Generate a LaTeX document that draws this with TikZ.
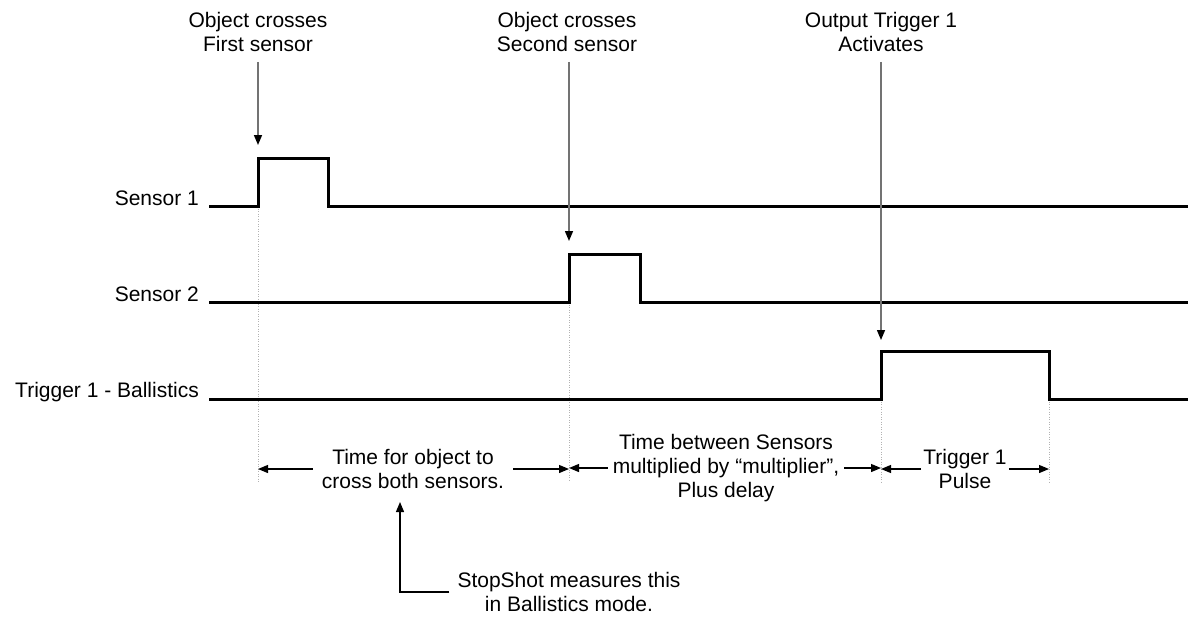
\documentclass[tikz,border=0pt]{standalone}
\usepackage{fontspec}
\setmainfont{Liberation Sans}
\usetikzlibrary{arrows.meta,calc}
\begin{document}
\begin{tikzpicture}[x=1pt,y=-1pt,
 txt/.style={font=\fontsize{21}{24}\selectfont, align=center, inner sep=4pt},
 wave/.style={line width=3pt, line join=miter},
 guide/.style={draw=black!30, line width=1pt, dash pattern=on 1pt off 1.5pt},
 pointer/.style={draw=black!55, line width=1.5pt, shorten <=6pt, -{Triangle[length=10pt,width=8pt,color=black]}},
 dimline/.style={line width=1.2pt, -{Triangle[length=10pt,width=8pt]}},
]
\useasboundingbox (0,0) rectangle (1188,618);
% event instants
\coordinate (e1) at (258,206);
\coordinate (e2) at (569,302);
\coordinate (e3) at (881,399);
\coordinate (e4) at (1049,399);
% guide lines
\draw[guide] (e1) -- (258,482);
\draw[guide] (e2) -- (569,482);
\draw[guide] (e3) -- (881,482);
\draw[guide] (e4) -- (1049,482);
% signal labels
\node[txt, anchor=east] (l1) at (203,198) {Sensor 1};
\node[txt, anchor=east] (l2) at (203,294) {Sensor 2};
\node[txt, anchor=east] (l3) at (203,392) {Trigger 1 - Ballistics};
% waveforms
\draw[wave] (209,206) -- (e1) -- (258,158) -- (328,158) -- (328,206) -- (1188,206);
\draw[wave] (209,302) -- (e2) -- (569,254) -- (640,254) -- (640,302) -- (1188,302);
\draw[wave] (209,399) -- (e3) -- (881,351) -- (1049,351) -- (e4) -- (1188,399);
% top event labels
\node[txt] (o1) at (258,32) {Object crosses\\First sensor};
\node[txt] (o2) at (567,32) {Object crosses\\Second sensor};
\node[txt] (o3) at (881,32) {Output Trigger 1\\Activates};
\coordinate (t1) at (258,145);
\coordinate (t2) at (569,241);
\coordinate (t3) at (881,340);
\draw[pointer] (o1.south -| t1) -- (t1);
\draw[pointer] (o2.south -| t2) -- (t2);
\draw[pointer] (o3.south -| t3) -- (t3);
% dimension labels
\node[txt, inner xsep=9pt] (d1) at (413,469) {Time for object to\\cross both sensors.};
\node[txt, inner xsep=5pt] (d2) at (726,468) {Time between Sensors\\multiplied by “multiplier”,\\Plus delay};
\node[txt, inner xsep=2pt] (d3) at (965,469) {Trigger 1\\Pulse};
\coordinate (a1) at (258,468);
\coordinate (a2) at (569,468);
\coordinate (a3) at (881,468);
\coordinate (a4) at (1049,468);
\draw[dimline] (d1.west) -- (d1.west -| a1);
\draw[dimline] (d1.east) -- (d1.east -| a2);
\draw[dimline] (d2.west) -- (d2.west -| a2);
\draw[dimline] (d2.east) -- (d2.east -| a3);
\draw[dimline] (d3.west) -- (d3.west -| a3);
\draw[dimline] (d3.east) -- (d3.east -| a4);
% note
\node[txt, inner xsep=8pt] (n) at (569,592) {StopShot measures this\\in Ballistics mode.};
\coordinate (up) at (400,502);
\draw[line width=1.2pt, -{Triangle[length=10pt,width=8pt]}] (n.west) -| (up);
\end{tikzpicture}
\end{document}
